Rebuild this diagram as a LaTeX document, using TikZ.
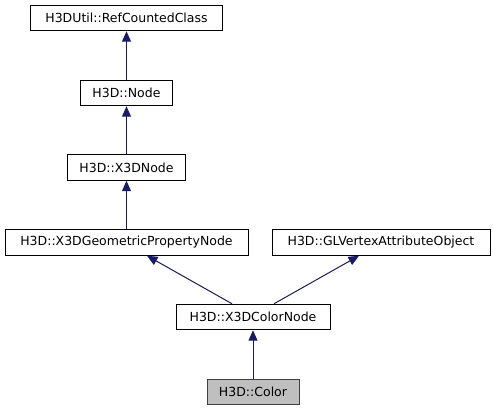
\documentclass[tikz,border=0pt]{standalone}
\usepackage{fontspec}
\setmainfont{DejaVu Sans}
\usetikzlibrary{arrows.meta}
\definecolor{edgeblue}{RGB}{25,25,112}
\definecolor{hlgray}{RGB}{191,191,191}
\definecolor{hlborder}{RGB}{64,64,64}
\begin{document}
\begin{tikzpicture}[x=1pt,y=-1pt,
  cls/.style={draw=black,line width=1pt,fill=white,inner sep=0pt,minimum height=25.5pt,
    font=\fontsize{12.5}{14}\selectfont,text=black},
  cur/.style={cls,fill=hlgray,draw=hlborder},
  inh/.style={draw=edgeblue,line width=1pt,-{Triangle[length=10.5pt,width=9pt,fill=edgeblue]}}]
\useasboundingbox (0,0) rectangle (493,411);
\node[cls,minimum width=192pt] (rcc) at (126.5,18) {H3DUtil::RefCountedClass};
\node[cls,minimum width=92pt] (nd) at (126.5,93) {H3D::Node};
\node[cls,minimum width=118pt] (x3d) at (126.5,167.5) {H3D::X3DNode};
\node[cls,minimum width=243pt] (gp) at (126.5,242.5) {H3D::X3DGeometricPropertyNode};
\node[cls,minimum width=218pt] (gl) at (381,242.5) {H3D::GLVertexAttributeObject};
\node[cls,minimum width=154pt] (cn) at (253,317) {H3D::X3DColorNode};
\node[cur,minimum width=92pt] (col) at (253,392) {H3D::Color};
\draw[inh] (nd) -- (rcc);
\draw[inh] (x3d) -- (nd);
\draw[inh] (gp) -- (x3d);
\draw[inh] ([xshift=-21pt]cn.north) -- ([xshift=20.5pt]gp.south);
\draw[inh] ([xshift=21pt]cn.north) -- ([xshift=-22pt]gl.south);
\draw[inh] (col) -- (cn);
\end{tikzpicture}
\end{document}
